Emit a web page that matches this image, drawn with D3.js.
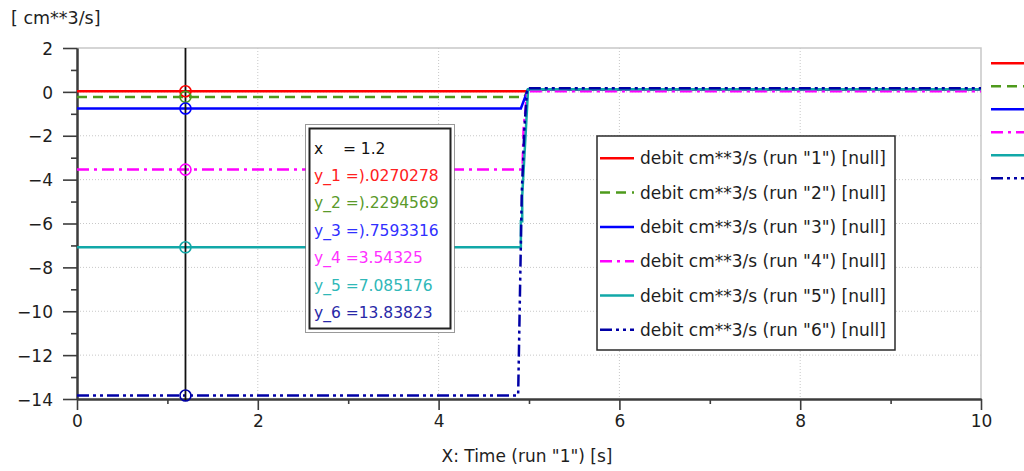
<!DOCTYPE html>
<html>
<head>
<meta charset="utf-8">
<script src="https://cdn.jsdelivr.net/npm/d3@7"></script>
<style>
  body { margin: 0; background: #fff; }
  svg { display: block; font-family: "DejaVu Sans", sans-serif; }
</style>
</head>
<body>
<div id="container"></div>
<script>
let w = 1024;
let h = 471;

// DATA
let runNames = ["1", "2", "3", "4", "5", "6"];
let run1 = [[0, 0.027], [4.98, 0.027], [5.0, 0.12], [10, 0.12]];
let run2 = [[0, -0.229], [4.95, -0.229], [4.99, 0.12], [10, 0.12]];
let run3 = [[0, -0.759], [4.91, -0.759], [4.99, 0.12], [10, 0.12]];
let run4 = [[0, -3.543], [4.91, -3.543], [4.93, -3.3], [4.94, -1.7], [4.98, 0.0], [4.99, 0.03], [10, 0.03]];
let run5 = [[0, -7.085], [4.91, -7.085], [4.91, -5.9], [4.925, -5.9], [4.925, -4.74], [4.99, 0.12], [10, 0.12]];
let run6 = [[0, -13.838], [4.88, -13.838], [4.9, -9.2], [4.92, -4.6], [4.95, -1.6], [4.98, 0.16], [10, 0.16]];
let cursorX = 1.2;
let cursorValues = [0.0270278, -0.2294569, -0.7593316, -3.54325, -7.085176, -13.83823];
let cursorTexts = ["x    = 1.2", "y_1 =).0270278", "y_2 =).2294569", "y_3 =).7593316", "y_4 =3.54325", "y_5 =7.085176", "y_6 =13.83823"];
let xTicks = [0, 2, 4, 6, 8, 10];
let xMinor = [1, 3, 5, 7, 9];
let yTicks = [2, 0, -2, -4, -6, -8, -10, -12, -14];
let yMinor = [1, -1, -3, -5, -7, -9, -11, -13];

let allRuns = [run1, run2, run3, run4, run5, run6];
let colors = ["#ff0000", "#4e9a1c", "#0000ff", "#ff00ff", "#12a8a8", "#0000a6"];
let textColors = ["#111111", "#ff2020", "#5a9a2a", "#3030ff", "#ff30ff", "#30b8b8", "#2828a8"];
let dashes = [null, "10,6", null, "12,5,3,5", null, "12,4,3,4,3,4"];

let viz = d3.select("#container").append("svg")
    .attr("width", w)
    .attr("height", h);

// SCALES
let xScale = d3.scaleLinear().domain([0, 10]).range([77, 981]);
let yScale = d3.scaleLinear().domain([-14, 2]).range([399, 48]);

// grid
viz.selectAll(".gridx").data(xTicks.slice(1, -1)).enter()
  .append("line")
    .attr("x1", d => xScale(d)).attr("x2", d => xScale(d))
    .attr("y1", yScale(2)).attr("y2", yScale(-14))
    .attr("stroke", "#c8c8c8").attr("stroke-dasharray", "1,2");
viz.selectAll(".gridy").data(yTicks.slice(1, -1)).enter()
  .append("line")
    .attr("x1", xScale(0)).attr("x2", xScale(10))
    .attr("y1", d => yScale(d)).attr("y2", d => yScale(d))
    .attr("stroke", "#c8c8c8").attr("stroke-dasharray", "1,2");

// frame top / right
viz.append("path")
  .attr("d", `M${xScale(0)},${yScale(2)}H${xScale(10)}V${yScale(-14)}`)
  .attr("fill", "none").attr("stroke", "#c8c8c8").attr("stroke-width", 1.5);

// AXES
viz.append("g").attr("transform", `translate(0,${yScale(-14)})`)
  .call(d3.axisBottom(xScale).tickValues(xTicks).tickSize(11).tickPadding(5).tickSizeOuter(0));
viz.append("g").attr("transform", `translate(0,${yScale(-14)})`)
  .call(d3.axisBottom(xScale).tickValues(xMinor).tickSize(5).tickFormat("").tickSizeOuter(0));
let yAxis = viz.append("g").attr("transform", `translate(${xScale(0)},0)`)
  .call(d3.axisLeft(yScale).tickValues(yTicks).tickSize(14).tickPadding(10).tickSizeOuter(0));
viz.append("g").attr("transform", `translate(${xScale(0)},0)`)
  .call(d3.axisLeft(yScale).tickValues(yMinor).tickSize(6).tickFormat("").tickSizeOuter(0));

viz.selectAll(".domain").attr("stroke", "#3c3c3c").attr("stroke-width", 2);
viz.selectAll(".tick line").attr("stroke", "#3c3c3c").attr("stroke-width", 1.6);
viz.selectAll(".tick text").attr("fill", "#1e1e1e")
  .style("font-size", "17px").style("font-family", "DejaVu Sans, sans-serif");
yAxis.selectAll(".tick text").attr("dy", "0.36em");

// LINES
let lineMaker = d3.line()
  .x(d => xScale(d[0]))
  .y(d => yScale(d[1]));

viz.selectAll(".run").data(allRuns).enter()
  .append("path")
    .attr("class", "run")
    .attr("d", lineMaker)
    .attr("fill", "none")
    .attr("stroke", (d, i) => colors[i])
    .attr("stroke-width", 2.5)
    .attr("stroke-dasharray", (d, i) => dashes[i]);

// cursor
viz.append("line")
  .attr("x1", xScale(cursorX)).attr("x2", xScale(cursorX))
  .attr("y1", yScale(2)).attr("y2", yScale(-14) + 2)
  .attr("stroke", "#111").attr("stroke-width", 1.8);
viz.selectAll(".mark").data(cursorValues).enter()
  .append("circle")
    .attr("cx", xScale(cursorX))
    .attr("cy", d => yScale(d))
    .attr("r", 5.5)
    .attr("fill", "none")
    .attr("stroke", (d, i) => colors[i])
    .attr("stroke-width", 1.6);

// tooltip box
viz.append("rect").attr("x", 305.5).attr("y", 124.5).attr("width", 149).attr("height", 208)
  .attr("fill", "#fff").attr("stroke", "#333").attr("stroke-dasharray", "1,1");
viz.append("rect").attr("x", 309.5).attr("y", 128.5).attr("width", 141).attr("height", 200)
  .attr("fill", "#fff").attr("stroke", "#222").attr("stroke-width", 2);
viz.selectAll(".tip").data(cursorTexts).enter()
  .append("text")
    .attr("x", 314)
    .attr("y", (d, i) => 148 + i * 27.4)
    .attr("dy", "0.36em")
    .attr("fill", (d, i) => textColors[i])
    .style("font-size", "15.5px")
    .style("white-space", "pre")
    .text(d => d);

// LEGEND
let legend = viz.append("g");
legend.append("rect").attr("x", 597).attr("y", 136).attr("width", 298).attr("height", 214)
  .attr("fill", "#fff").attr("stroke", "#2a2a2a").attr("stroke-width", 1.5);
let rows = legend.selectAll(".row").data(runNames).enter()
  .append("g")
    .attr("transform", (d, i) => `translate(0,${158.3 + i * 34.3})`);
rows.append("line")
  .attr("x1", 600).attr("x2", 634)
  .attr("stroke", (d, i) => colors[i])
  .attr("stroke-width", 2.5)
  .attr("stroke-dasharray", (d, i) => dashes[i]);
rows.append("text")
  .attr("x", 640).attr("dy", "0.36em")
  .attr("fill", "#1e1e1e")
  .style("font-size", "17px")
  .text(d => `debit cm**3/s (run "${d}") [null]`);

// cut-off legend at the right edge
viz.selectAll(".side").data(runNames).enter()
  .append("line")
    .attr("x1", 991).attr("x2", 1030)
    .attr("y1", (d, i) => 63.3 + i * 23).attr("y2", (d, i) => 63.3 + i * 23)
    .attr("stroke", (d, i) => colors[i])
    .attr("stroke-width", 2.5)
    .attr("stroke-dasharray", (d, i) => dashes[i]);

// axis titles
viz.append("text").attr("x", 11).attr("y", 24)
  .attr("fill", "#1e1e1e").style("font-size", "17.5px").style("white-space", "pre")
  .text("[ cm**3/s]");
viz.append("text").attr("x", 527).attr("y", 462).attr("text-anchor", "middle")
  .attr("fill", "#1e1e1e").style("font-size", "17px")
  .text('X: Time (run "1") [s]');
</script>
</body>
</html>
